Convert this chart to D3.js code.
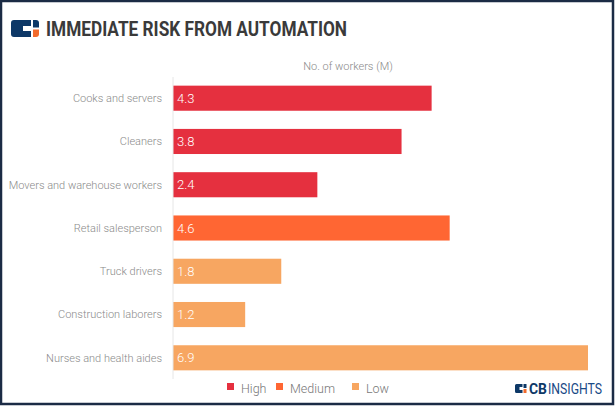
<!DOCTYPE html>
<html lang="en">
<head>
<meta charset="UTF-8">
<title>Immediate risk from automation</title>
<script src="https://d3js.org/d3.v7.min.js"></script>
<style>
    body { margin: 0; background: #fff; }
    .lbl { font-family: Roboto, sans-serif; font-weight: 300; font-size: 11px; fill: #8a8a8a; }
    .val { font-family: Roboto, sans-serif; font-weight: 300; font-size: 13px; fill: #fff; }
</style>
</head>
<body>
<svg id="chart" width="615" height="406"></svg>
<script>
    const categories = ["Cooks and servers", "Cleaners", "Movers and warehouse workers",
        "Retail salesperson", "Truck drivers", "Construction laborers", "Nurses and health aides"];
    const workers = [4.3, 3.8, 2.4, 4.6, 1.8, 1.2, 6.9];
    const risk = ["High", "High", "High", "Medium", "Low", "Low", "Low"];
    const riskLevels = ["High", "Medium", "Low"];
    const riskColors = ["#e5303f", "#ff6633", "#f7a661"];

    const data = categories.map((c, i) => ({ name: c, value: workers[i], risk: risk[i] }));

    const svg = d3.select("#chart");

    // frame
    svg.append("rect")
        .attr("x", 1).attr("y", 1).attr("width", 612).attr("height", 403)
        .attr("fill", "#fff").attr("stroke", "#1b2b45").attr("stroke-width", 2.5);

    // title icon
    const icon = svg.append("g").attr("transform", "translate(11,20)");
    icon.append("path").attr("d", "M3,0 H20 V6 H12 V11 H20 V17 H3 Q0,17 0,14 V3 Q0,0 3,0 Z").attr("fill", "#0d3867");
    icon.append("path").attr("d", "M22,0 H25 Q28,0 28,3 V7.5 H22 Z").attr("fill", "#0d3867");
    icon.append("path").attr("d", "M22,9.5 H28 V14 Q28,17 25,17 H22 Z").attr("fill", "#f26b2d");

    svg.append("text")
        .attr("x", 46).attr("y", 36)
        .attr("font-family", "'Liberation Sans Narrow', Roboto, sans-serif")
        .attr("font-weight", "bold").attr("font-size", 21)
        .attr("fill", "#3a3a3a")
        .attr("textLength", 301).attr("lengthAdjust", "spacingAndGlyphs")
        .text("IMMEDIATE RISK FROM AUTOMATION");

    const x = d3.scaleLinear().domain([0, 6.9]).range([173, 588]);
    const y = d3.scaleBand().domain(categories).range([77, 379]).paddingInner(0.42).paddingOuter(0.2);
    const color = d3.scaleOrdinal().domain(riskLevels).range(riskColors);

    svg.append("text")
        .attr("class", "lbl")
        .attr("x", 348).attr("y", 70)
        .attr("text-anchor", "middle")
        .text("No. of workers (M)");

    svg.append("g")
        .selectAll("rect")
        .data(data)
        .join("rect")
        .attr("x", x(0))
        .attr("y", d => y(d.name))
        .attr("width", d => x(d.value) - x(0))
        .attr("height", y.bandwidth())
        .attr("fill", d => color(d.risk));

    svg.append("line")
        .attr("x1", x(0)).attr("x2", x(0))
        .attr("y1", 77).attr("y2", 379)
        .attr("stroke", "#e6e6e6").attr("stroke-width", 1);

    svg.append("g")
        .selectAll("text")
        .data(data)
        .join("text")
        .attr("class", "lbl")
        .attr("x", 162)
        .attr("y", d => y(d.name) + y.bandwidth() / 2)
        .attr("dy", "0.35em")
        .attr("text-anchor", "end")
        .text(d => d.name);

    svg.append("g")
        .selectAll("text")
        .data(data)
        .join("text")
        .attr("class", "val")
        .attr("x", x(0) + 4)
        .attr("y", d => y(d.name) + y.bandwidth() / 2)
        .attr("dy", "0.36em")
        .text(d => d.value.toFixed(1));

    // legend
    const legendX = [227, 276, 352];
    const legend = svg.append("g")
        .selectAll("g")
        .data(riskLevels)
        .join("g")
        .attr("transform", (d, i) => `translate(${legendX[i]},383)`);
    legend.append("rect").attr("width", 7).attr("height", 7).attr("fill", d => color(d));
    legend.append("text")
        .attr("class", "lbl")
        .attr("x", 14).attr("y", 10)
        .style("font-size", "12.5px")
        .style("fill", "#777")
        .text(d => d);

    // CB Insights logo
    const logo = svg.append("g").attr("transform", "translate(515,384)");
    logo.append("path").attr("d", "M1.5,0 H7.5 V3 H4.5 V6 H7.5 V9 H1.5 Q0,9 0,7.5 V1.5 Q0,0 1.5,0 Z").attr("fill", "#0d3867");
    logo.append("rect").attr("x", 8.5).attr("y", 0).attr("width", 3).attr("height", 4).attr("fill", "#0d3867");
    logo.append("rect").attr("x", 8.5).attr("y", 5).attr("width", 3).attr("height", 4).attr("fill", "#f26b2d");
    logo.append("text")
        .attr("x", 14).attr("y", 10)
        .attr("font-family", "Roboto, sans-serif").attr("font-size", 14)
        .attr("font-weight", "bold").attr("fill", "#0d3867")
        .attr("textLength", 18).attr("lengthAdjust", "spacingAndGlyphs")
        .text("CB");
    logo.append("text")
        .attr("x", 33).attr("y", 10)
        .attr("font-family", "Roboto, sans-serif").attr("font-size", 14)
        .attr("fill", "#1a4a86")
        .attr("textLength", 54).attr("lengthAdjust", "spacingAndGlyphs")
        .text("INSIGHTS");
</script>
</body>
</html>
